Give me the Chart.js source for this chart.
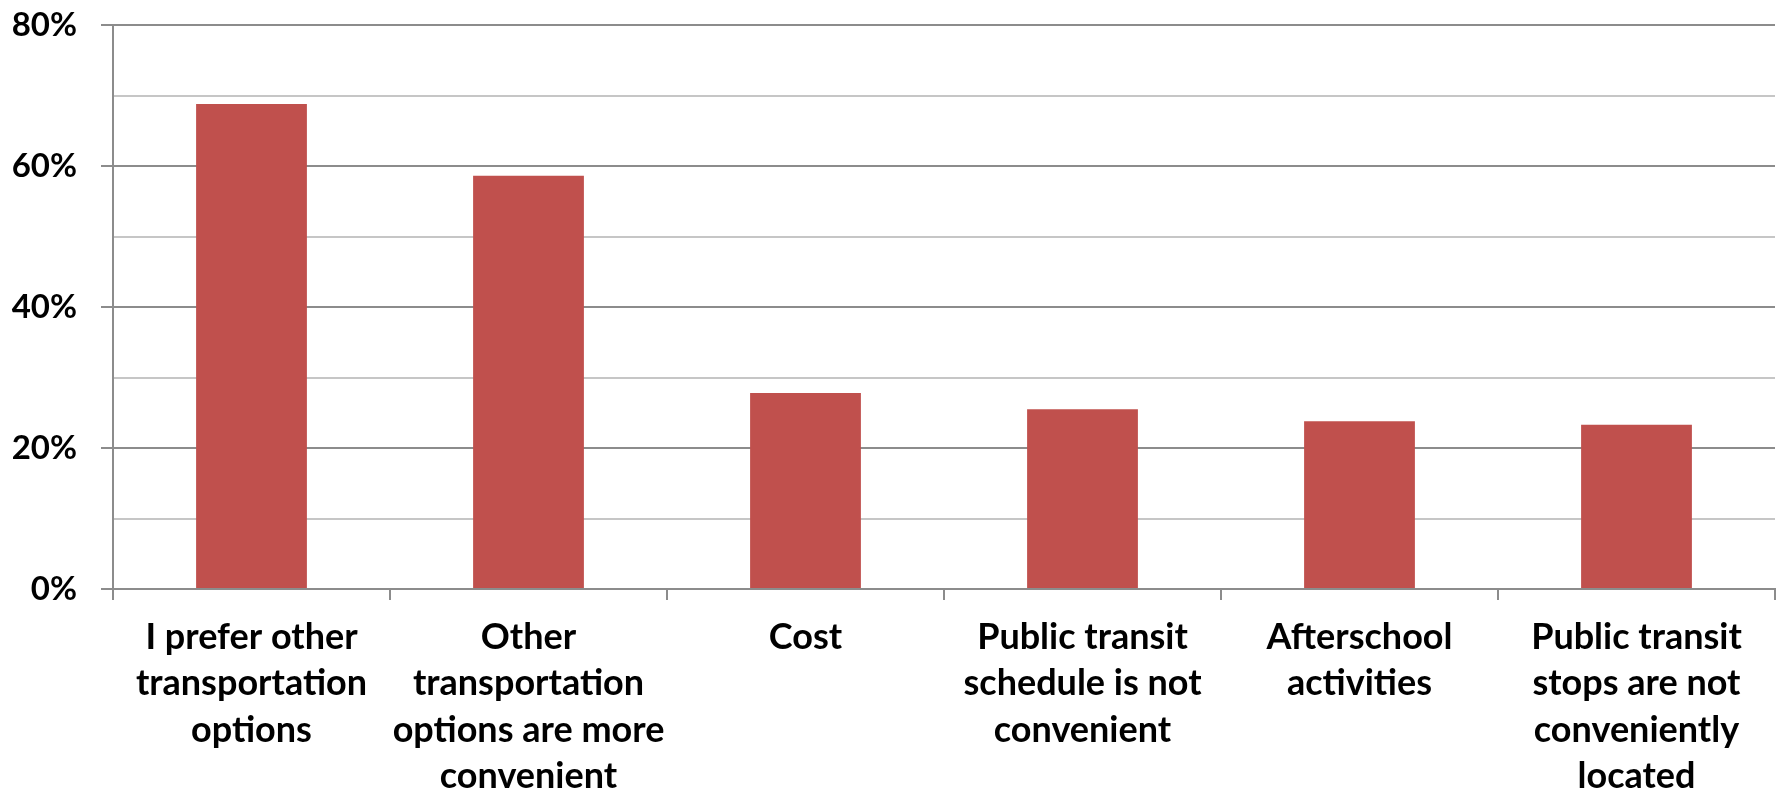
<!DOCTYPE html>
<html>
<head>
<meta charset="utf-8">
<script src="https://cdn.jsdelivr.net/npm/chart.js@4/dist/chart.umd.min.js"></script>
<style>
  html, body { margin: 0; padding: 0; background: #fff; }
  #wrap { width: 1779px; height: 793px; }
</style>
</head>
<body>
<div id="wrap"><canvas id="chart" width="1779" height="793"></canvas></div>
<script>
// Reasons for not using public transit (share of respondents)
const categories = [
  ['I prefer other', 'transportation', 'options'],
  ['Other', 'transportation', 'options are more', 'convenient'],
  ['Cost'],
  ['Public transit', 'schedule is not', 'convenient'],
  ['Afterschool', 'activities'],
  ['Public transit', 'stops are not', 'conveniently', 'located']
];
const shares = [68.8, 58.6, 27.8, 25.5, 23.8, 23.3];
const yTicks = [0, 20, 40, 60, 80];

const barColor = '#c0504d';
const majorGrid = '#8c8c8c';
const minorGrid = '#c6c6c6';
const labelFont = { family: 'Lato', weight: 'bold', size: 36, lineHeight: 1.29 };

const ctx = document.getElementById('chart').getContext('2d');
new Chart(ctx, {
  type: 'bar',
  data: {
    labels: categories,
    datasets: [{
      data: shares,
      backgroundColor: barColor,
      borderWidth: 0,
      categoryPercentage: 1,
      barPercentage: 0.4
    }]
  },
  options: {
    responsive: false,
    animation: false,
    devicePixelRatio: 1,
    layout: { padding: { top: 25, right: 4, left: 0, bottom: 0 } },
    plugins: { legend: { display: false }, tooltip: { enabled: false } },
    scales: {
      x: {
        offset: true,
        grid: {
          offset: true,
          drawOnChartArea: false,
          color: majorGrid,
          lineWidth: 2,
          tickLength: 11
        },
        border: { color: majorGrid, width: 2 },
        ticks: {
          color: '#000',
          font: labelFont,
          maxRotation: 0,
          autoSkip: false,
          padding: 14
        },
        afterFit: scale => {
          scale.height = 204;
          scale.paddingTop = 0;
          scale.paddingBottom = 0;
        }
      },
      y: {
        min: 0,
        max: 80,
        ticks: {
          stepSize: 10,
          color: '#000',
          font: { family: 'Lato', weight: 'bold', size: 33 },
          padding: 24,
          callback: v => yTicks.includes(v) ? v + '%' : ''
        },
        grid: {
          color: c => yTicks.includes(c.tick.value) ? majorGrid : minorGrid,
          tickColor: c => yTicks.includes(c.tick.value) ? majorGrid : 'rgba(0,0,0,0)',
          lineWidth: 2,
          tickLength: 12
        },
        border: { color: majorGrid, width: 2 },
        afterFit: scale => {
          scale.width = 113;
          scale.paddingTop = 0;
          scale.paddingBottom = 0;
        }
      }
    }
  }
});
</script>
</body>
</html>
